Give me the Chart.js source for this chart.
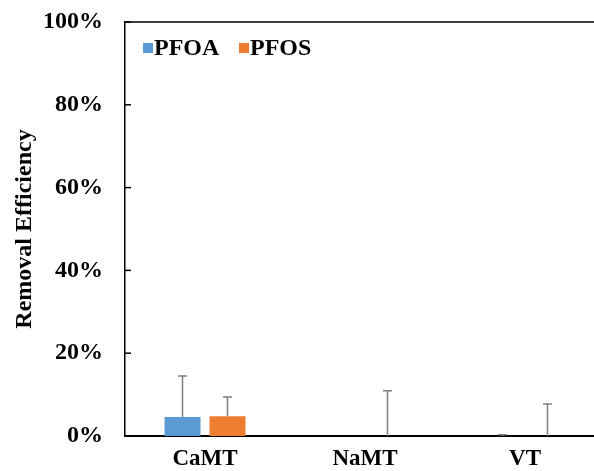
<!DOCTYPE html>
<html>
<head>
<meta charset="utf-8">
<script src="https://cdn.jsdelivr.net/npm/chart.js@4"></script>
<style>
  body { margin: 0; overflow: hidden; background: #fff; }
  #wrap { width: 620px; height: 471px; }
</style>
</head>
<body>
<div id="wrap"><canvas id="myChart" width="620" height="471"></canvas></div>
<script>
// data (percent)
let categories = ['CaMT', 'NaMT', 'VT'];
let seriesNames = ['PFOA', 'PFOS'];
let pfoaValues = [4.6, 0, 0];
let pfoaErrors = [9.9, 0, 0.3];
let pfosValues = [4.8, 0, 0];
let pfosErrors = [4.6, 10.9, 7.7];
let yTickValues = [0, 20, 40, 60, 80, 100];

let colors = ['#5B9BD5', '#ED7D31'];
let errors = [pfoaErrors, pfosErrors];
let fontFamily = '"Liberation Serif", "Times New Roman", serif';

// error bars, inward ticks, top frame line and the legend
let extrasPlugin = {
  id: 'extras',
  afterDatasetsDraw(chart) {
    let ctx = chart.ctx;
    let yScale = chart.scales.y;

    ctx.save();
    ctx.strokeStyle = '#7f7f7f';
    ctx.lineWidth = 1.5;
    chart.data.datasets.forEach(function (ds, i) {
      let meta = chart.getDatasetMeta(i);
      meta.data.forEach(function (bar, j) {
        let err = errors[i][j];
        if (!err) return;
        let yBase = yScale.getPixelForValue(ds.data[j]);
        let yTop = yScale.getPixelForValue(ds.data[j] + err);
        ctx.beginPath();
        ctx.moveTo(bar.x, yBase);
        ctx.lineTo(bar.x, yTop);
        ctx.moveTo(bar.x - 4.5, yTop);
        ctx.lineTo(bar.x + 4.5, yTop);
        ctx.stroke();
      });
    });
    ctx.restore();
  },
  afterDraw(chart) {
    let ctx = chart.ctx;
    let yScale = chart.scales.y;
    let area = chart.chartArea;

    ctx.save();
    ctx.strokeStyle = '#000';
    ctx.lineWidth = 1.5;
    // inward tick marks
    yTickValues.forEach(function (v) {
      let y = yScale.getPixelForValue(v);
      ctx.beginPath();
      ctx.moveTo(area.left, y);
      ctx.lineTo(area.left + 6, y);
      ctx.stroke();
    });
    // top frame line
    ctx.beginPath();
    ctx.moveTo(area.left, area.top);
    ctx.lineTo(area.right, area.top);
    ctx.stroke();

    // legend
    ctx.font = 'bold 24px ' + fontFamily;
    ctx.textBaseline = 'middle';
    ctx.textAlign = 'left';
    let x = area.left + 18;
    let y = area.top + 26;
    seriesNames.forEach(function (name, i) {
      ctx.fillStyle = colors[i];
      ctx.fillRect(x, y - 5, 10, 10);
      ctx.fillStyle = '#000';
      ctx.fillText(name, x + 11, y + 1);
      x += 96;
    });
    ctx.restore();
  }
};

let ctx = document.getElementById('myChart').getContext('2d');
let myChart = new Chart(ctx, {
  type: 'bar',
  data: {
    labels: categories,
    datasets: [
      {
        label: seriesNames[0],
        data: pfoaValues,
        backgroundColor: colors[0],
        categoryPercentage: 0.5625,
        barPercentage: 0.8
      },
      {
        label: seriesNames[1],
        data: pfosValues,
        backgroundColor: colors[1],
        categoryPercentage: 0.5625,
        barPercentage: 0.8
      }
    ]
  },
  options: {
    responsive: false,
    animation: false,
    layout: { padding: { top: 22, right: 15, bottom: 0, left: 0 } },
    plugins: {
      legend: { display: false },
      tooltip: { enabled: false }
    },
    scales: {
      x: {
        grid: { display: false, drawTicks: false },
        border: { color: '#000', width: 2 },
        ticks: {
          color: '#000',
          padding: 9,
          font: { family: fontFamily, size: 23, weight: 'bold' }
        },
        afterFit: function (scale) {
          scale.height = 35;
          scale.paddingLeft = 0;
          scale.paddingRight = 0;
        }
      },
      y: {
        min: 0,
        max: 100,
        grid: { display: false, drawTicks: false },
        border: { color: '#000', width: 1.5 },
        ticks: {
          stepSize: 20,
          color: '#000',
          padding: 22,
          font: { family: fontFamily, size: 24, weight: 'bold' },
          callback: function (v) {
            return v + '%';
          }
        },
        title: {
          display: true,
          text: 'Removal Efficiency',
          color: '#000',
          padding: { top: 10, bottom: 0 },
          font: { family: fontFamily, size: 24, weight: 'bold' }
        },
        afterFit: function (scale) {
          scale.width = 125;
          scale.paddingTop = 0;
          scale.paddingBottom = 0;
        }
      }
    }
  },
  plugins: [extrasPlugin]
});
</script>
</body>
</html>
